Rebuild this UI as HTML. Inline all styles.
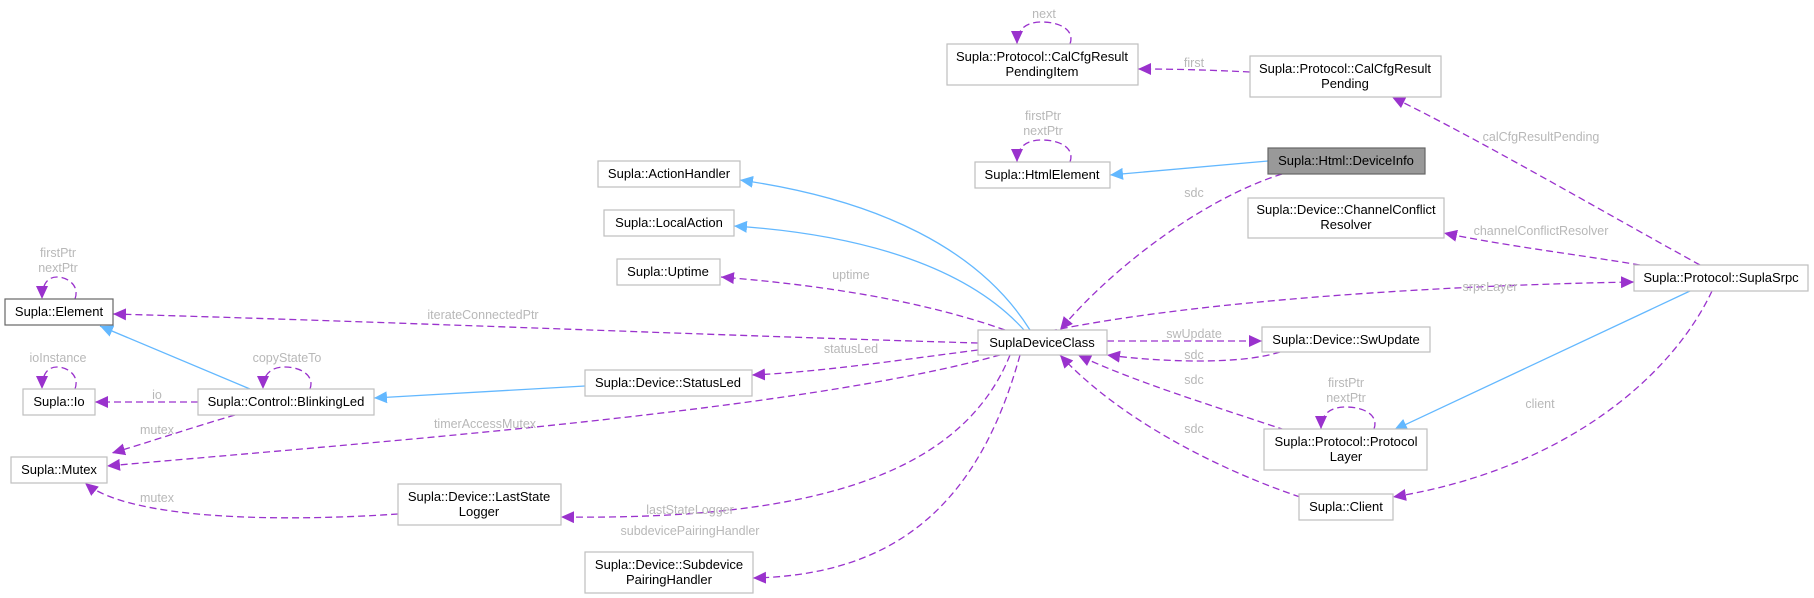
<!DOCTYPE html>
<html><head><meta charset="utf-8"><style>
html,body{margin:0;padding:0;background:#fff}
svg{display:block}
text{font-family:"Liberation Sans",Arial,sans-serif;font-size:12.5px}
.n{fill:#000;text-anchor:middle;font-size:13px}
.l{fill:#b8b8b8;text-anchor:middle}
.b{fill:#fff;stroke:#bfbfbf;stroke-width:1.2}
.d{fill:none;stroke:#9a32cd;stroke-width:1.3;stroke-dasharray:7,4}
.s{fill:none;stroke:#63b8ff;stroke-width:1.3}
</style></head><body>
<svg width="1814" height="598" viewBox="0 0 1814 598" xmlns="http://www.w3.org/2000/svg">
<defs>
<marker id="ap" markerUnits="userSpaceOnUse" markerWidth="14" markerHeight="12" refX="13" refY="6" orient="auto"><path d="M0,0 L13,6 L0,12 z" fill="#9a32cd"/></marker>
<marker id="ab" markerUnits="userSpaceOnUse" markerWidth="14" markerHeight="12" refX="13" refY="6" orient="auto"><path d="M0,0 L13,6 L0,12 z" fill="#63b8ff"/></marker>
</defs>

<path class="s" d="M1268,161 L1110,175" marker-end="url(#ab)"/>
<path class="d" d="M1282,174 C1200,200 1110,270 1060,330" marker-end="url(#ap)"/>
<path class="d" d="M1700,265 C1600,210 1480,140 1392,97" marker-end="url(#ap)"/>
<path class="d" d="M1250,72 C1210,70 1175,69 1138,69" marker-end="url(#ap)"/>
<path class="d" d="M1640,265 C1580,255 1500,245 1444,233" marker-end="url(#ap)"/>
<path class="d" d="M1050,331 C1200,300 1450,285 1634,282" marker-end="url(#ap)"/>
<path class="d" d="M1107,341 L1262,341" marker-end="url(#ap)"/>
<path class="d" d="M1280,352 C1240,365 1160,362 1107,355" marker-end="url(#ap)"/>
<path class="d" d="M1285,430 C1210,405 1130,380 1078,355" marker-end="url(#ap)"/>
<path class="d" d="M1300,497 C1220,470 1120,420 1060,355" marker-end="url(#ap)"/>
<path class="s" d="M1690,291 L1394,430" marker-end="url(#ab)"/>
<path class="d" d="M1712,291 C1670,380 1560,470 1393,497" marker-end="url(#ap)"/>
<path class="s" d="M1030,330 C980,250 880,200 740,180" marker-end="url(#ab)"/>
<path class="s" d="M1024,330 C970,270 870,235 734,226" marker-end="url(#ab)"/>
<path class="d" d="M1005,330 C920,300 820,285 721,277" marker-end="url(#ap)"/>
<path class="d" d="M978,343 C700,335 400,322 113,314" marker-end="url(#ap)"/>
<path class="d" d="M978,350 C900,360 820,372 752,375" marker-end="url(#ap)"/>
<path class="s" d="M585,386 L374,398" marker-end="url(#ab)"/>
<path class="s" d="M250,389 L100,326" marker-end="url(#ab)"/>
<path class="d" d="M198,402 L95,402" marker-end="url(#ap)"/>
<path class="d" d="M235,415 C190,428 150,442 112,453" marker-end="url(#ap)"/>
<path class="d" d="M1000,355 C800,410 400,440 107,466" marker-end="url(#ap)"/>
<path class="d" d="M1010,355 C960,480 800,520 561,517" marker-end="url(#ap)"/>
<path class="d" d="M398,514 C280,522 130,520 85,483" marker-end="url(#ap)"/>
<path class="d" d="M1020,355 C980,500 900,575 753,578" marker-end="url(#ap)"/>
<path class="d" d="M1070,44 C1075,30 1060,22 1042,22 C1025,22 1017,30 1017,44" marker-end="url(#ap)"/>
<path class="d" d="M1070,162 C1075,148 1060,140 1042,140 C1025,140 1017,148 1017,162" marker-end="url(#ap)"/>
<path class="d" d="M1374,429 C1379,415 1364,407 1346,407 C1329,407 1321,415 1321,429" marker-end="url(#ap)"/>
<path class="d" d="M75,299 C80,285 67,277 57,277 C47,277 42,285 42,299" marker-end="url(#ap)"/>
<path class="d" d="M75,389 C80,375 67,367 57,367 C47,367 42,375 42,389" marker-end="url(#ap)"/>
<path class="d" d="M310,389 C315,375 300,367 285,367 C270,367 263,375 263,389" marker-end="url(#ap)"/>

<text class="l" x="1044" y="18">next</text>
<text class="l" x="1194" y="67">first</text>
<text class="l" x="1043" y="120">firstPtr</text>
<text class="l" x="1043" y="135">nextPtr</text>
<text class="l" x="1194" y="197">sdc</text>
<text class="l" x="1541" y="141">calCfgResultPending</text>
<text class="l" x="1541" y="235">channelConflictResolver</text>
<text class="l" x="1490" y="291">srpcLayer</text>
<text class="l" x="1194" y="338">swUpdate</text>
<text class="l" x="1194" y="359">sdc</text>
<text class="l" x="1194" y="384">sdc</text>
<text class="l" x="1194" y="433">sdc</text>
<text class="l" x="1346" y="387">firstPtr</text>
<text class="l" x="1346" y="402">nextPtr</text>
<text class="l" x="1540" y="408">client</text>
<text class="l" x="851" y="279">uptime</text>
<text class="l" x="483" y="319">iterateConnectedPtr</text>
<text class="l" x="851" y="353">statusLed</text>
<text class="l" x="58" y="257">firstPtr</text>
<text class="l" x="58" y="272">nextPtr</text>
<text class="l" x="58" y="362">ioInstance</text>
<text class="l" x="287" y="362">copyStateTo</text>
<text class="l" x="157" y="399">io</text>
<text class="l" x="157" y="434">mutex</text>
<text class="l" x="485" y="428">timerAccessMutex</text>
<text class="l" x="157" y="502">mutex</text>
<text class="l" x="690" y="514">lastStateLogger</text>
<text class="l" x="690" y="535">subdevicePairingHandler</text>

<rect class="b" x="947" y="44" width="191" height="41"/>
<text class="n" x="1042" y="61">Supla::Protocol::CalCfgResult</text><text class="n" x="1042" y="76">PendingItem</text>
<rect class="b" x="1250" y="56" width="191" height="41"/>
<text class="n" x="1345" y="73">Supla::Protocol::CalCfgResult</text><text class="n" x="1345" y="88">Pending</text>
<rect class="b" x="975" y="162" width="135" height="26"/>
<text class="n" x="1042" y="179">Supla::HtmlElement</text>
<rect x="1268" y="148" width="157" height="26" fill="#999" stroke="#666" stroke-width="1.2"/>
<text class="n" x="1346" y="165">Supla::Html::DeviceInfo</text>
<rect class="b" x="1248" y="198" width="196" height="40"/>
<text class="n" x="1346" y="214">Supla::Device::ChannelConflict</text><text class="n" x="1346" y="229">Resolver</text>
<rect class="b" x="1634" y="265" width="174" height="26"/>
<text class="n" x="1721" y="282">Supla::Protocol::SuplaSrpc</text>
<rect class="b" x="1262" y="327" width="168" height="25"/>
<text class="n" x="1346" y="344">Supla::Device::SwUpdate</text>
<rect class="b" x="1264" y="429" width="163" height="41"/>
<text class="n" x="1346" y="446">Supla::Protocol::Protocol</text><text class="n" x="1346" y="461">Layer</text>
<rect class="b" x="1299" y="494" width="94" height="26"/>
<text class="n" x="1346" y="511">Supla::Client</text>
<rect class="b" x="978" y="330" width="129" height="25"/>
<text class="n" x="1042" y="347">SuplaDeviceClass</text>
<rect class="b" x="598" y="161" width="142" height="26"/>
<text class="n" x="669" y="178">Supla::ActionHandler</text>
<rect class="b" x="604" y="210" width="130" height="26"/>
<text class="n" x="669" y="227">Supla::LocalAction</text>
<rect class="b" x="617" y="259" width="103" height="26"/>
<text class="n" x="668" y="276">Supla::Uptime</text>
<rect class="b" x="585" y="370" width="167" height="26"/>
<text class="n" x="668" y="387">Supla::Device::StatusLed</text>
<rect x="5" y="299" width="108" height="26" fill="#fff" stroke="#666" stroke-width="1.2"/>
<text class="n" x="59" y="316">Supla::Element</text>
<rect class="b" x="23" y="389" width="72" height="26"/>
<text class="n" x="59" y="406">Supla::Io</text>
<rect class="b" x="198" y="389" width="176" height="26"/>
<text class="n" x="286" y="406">Supla::Control::BlinkingLed</text>
<rect class="b" x="11" y="457" width="96" height="26"/>
<text class="n" x="59" y="474">Supla::Mutex</text>
<rect class="b" x="398" y="484" width="163" height="41"/>
<text class="n" x="479" y="501">Supla::Device::LastState</text><text class="n" x="479" y="516">Logger</text>
<rect class="b" x="585" y="552" width="168" height="41"/>
<text class="n" x="669" y="569">Supla::Device::Subdevice</text><text class="n" x="669" y="584">PairingHandler</text>
</svg>
</body></html>
